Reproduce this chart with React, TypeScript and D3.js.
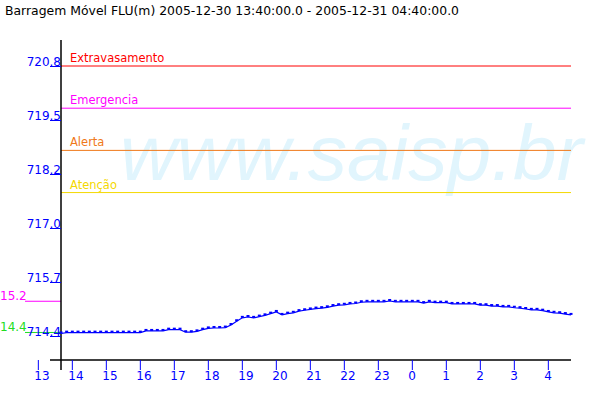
import * as d3 from "d3"

const title = "Barragem Móvel FLU(m) 2005-12-30 13:40:00.0 - 2005-12-31 04:40:00.0"

const startTime = new Date(2005, 11, 30, 13, 40)
const endTime = new Date(2005, 11, 31, 4, 40)

// level readings every 10 minutes (m)
const levels = [
  714.46, 714.48, 714.48, 714.48, 714.48, 714.48, 714.48, 714.48, 714.48, 714.48,
  714.48, 714.48, 714.48, 714.48, 714.48, 714.52, 714.52, 714.52, 714.52, 714.55,
  714.55, 714.55, 714.49, 714.49, 714.51, 714.55, 714.58, 714.59, 714.59, 714.6,
  714.66, 714.75, 714.83, 714.85, 714.83, 714.86, 714.89, 714.93, 714.97, 714.9,
  714.93, 714.95, 714.99, 715.01, 715.03, 715.05, 715.06, 715.08, 715.11, 715.13,
  715.14, 715.16, 715.17, 715.2, 715.21, 715.21, 715.21, 715.21, 715.23, 715.21,
  715.21, 715.21, 715.21, 715.21, 715.18, 715.21, 715.19, 715.19, 715.19, 715.16,
  715.16, 715.16, 715.16, 715.16, 715.13, 715.13, 715.11, 715.11, 715.09, 715.09,
  715.07, 715.06, 715.04, 715.02, 715.02, 715.0, 714.97, 714.95, 714.94, 714.92,
  714.9,
]

const yTicks = [714.4, 715.68, 716.96, 718.24, 719.52, 720.8]

const thresholdNames = ["Extravasamento", "Emergencia", "Alerta", "Atenção"]
const thresholdValues = [720.8, 719.8, 718.8, 717.8]
const thresholdColors = ["#ff0000", "#ff00ff", "#f07818", "#f4d800"]

const sideLabels = ["15.2", "14.4"]
const sideValues = [715.2, 714.46]
const sideColors = ["#ff00ff", "#22dd22"]

const font = "'DejaVu Sans', sans-serif"

export default function App() {
  const width = 600
  const height = 400
  const left = 61
  const right = 571
  const axisY = 360

  const x = d3.scaleTime().domain([startTime, endTime]).range([left, right])
  const y = d3.scaleLinear().domain([714.4, 720.8]).range([336, 66])

  const times = d3.range(levels.length).map((i) => d3.timeMinute.offset(startTime, i * 10))
  const pts = levels.map((v, i) => ({ t: times[i], v }))

  const line = d3.line<{ t: Date; v: number }>()
    .x((d) => x(d.t))
    .y((d) => y(d.v))

  const hourTicks = d3.timeHour.range(new Date(2005, 11, 30, 13, 0), endTime)
  const fmtHour = d3.timeFormat("%-H")

  return (
    <svg
      width={width}
      height={height}
      style={{ position: "fixed", left: 0, top: 0, background: "#fff" }}
      fontFamily={font}
    >
      <rect width={width} height={height} fill="#fff" />

      {/* watermark */}
      <text
        x={120}
        y={180}
        fontFamily="'Liberation Sans', Arial, sans-serif"
        fontStyle="italic"
        fontSize={78}
        fill="#e1f5fd"
        textLength={463}
        lengthAdjust="spacingAndGlyphs"
      >
        www.saisp.br
      </text>

      <text x={5} y={15} fontSize={12} fill="#000" textLength={454} lengthAdjust="spacingAndGlyphs">
        {title}
      </text>

      {/* thresholds */}
      {thresholdValues.map((v, i) => (
        <g key={thresholdNames[i]}>
          <line x1={left} x2={right} y1={y(v)} y2={y(v)} stroke={thresholdColors[i]} strokeWidth={1} />
          <text x={70} y={y(v) - 4} fontSize={11.5} fill={thresholdColors[i]}>
            {thresholdNames[i]}
          </text>
        </g>
      ))}

      {/* side markers */}
      {sideValues.map((v, i) => (
        <g key={sideLabels[i]}>
          <line x1={25} x2={left} y1={y(v) - 1} y2={y(v) - 1} stroke={sideColors[i]} strokeWidth={1} />
          <text x={0} y={y(v) - 2} fontSize={12} fill={sideColors[i]}>
            {sideLabels[i]}
          </text>
        </g>
      ))}

      {/* axes */}
      <line x1={left} x2={left} y1={40} y2={370} stroke="#000" strokeWidth={1.5} />
      <line x1={50} x2={right} y1={axisY} y2={axisY} stroke="#000" strokeWidth={1.5} />

      {yTicks.map((t) => (
        <g key={t}>
          <line x1={50} x2={left} y1={y(t) + 0.5} y2={y(t) + 0.5} stroke="#0000ff" strokeWidth={1} />
          <text x={left} y={y(t)} fontSize={12} fill="#0000ff" textAnchor="end">
            {t.toFixed(1)}
          </text>
        </g>
      ))}

      {hourTicks.map((t) => (
        <g key={t.getTime()}>
          <line x1={x(t)} x2={x(t)} y1={axisY} y2={370} stroke="#0000ff" strokeWidth={1} />
          <text x={x(t) - 4} y={380} fontSize={12} fill="#0000ff">
            {fmtHour(t)}
          </text>
        </g>
      ))}

      {/* data */}
      <path d={line(pts) ?? ""} fill="none" stroke="#0000ff" strokeWidth={1.2} />
      {pts.map((d, i) => (
        <rect key={i} x={x(d.t) - 1.5} y={y(d.v) - 2} width={3} height={2} fill="#0000ff" />
      ))}
    </svg>
  )
}
